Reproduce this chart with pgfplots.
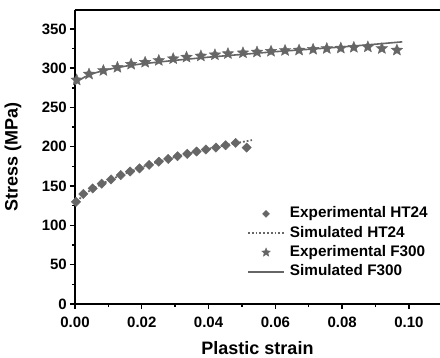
\documentclass[border=0pt]{standalone}
\usepackage{fontspec}
\setmainfont{Liberation Sans}
\usepackage{pgfplots}
\pgfplotsset{compat=1.18}
\definecolor{dgray}{HTML}{666666}
\pgfdeclareplotmark{fstar}{%
  \pgfpathmoveto{\pgfpointpolar{90}{\pgfplotmarksize}}%
  \pgfpathlineto{\pgfpointpolar{126}{0.45\pgfplotmarksize}}%
  \pgfpathlineto{\pgfpointpolar{162}{\pgfplotmarksize}}%
  \pgfpathlineto{\pgfpointpolar{198}{0.45\pgfplotmarksize}}%
  \pgfpathlineto{\pgfpointpolar{234}{\pgfplotmarksize}}%
  \pgfpathlineto{\pgfpointpolar{270}{0.45\pgfplotmarksize}}%
  \pgfpathlineto{\pgfpointpolar{306}{\pgfplotmarksize}}%
  \pgfpathlineto{\pgfpointpolar{342}{0.45\pgfplotmarksize}}%
  \pgfpathlineto{\pgfpointpolar{18}{\pgfplotmarksize}}%
  \pgfpathlineto{\pgfpointpolar{54}{0.45\pgfplotmarksize}}%
  \pgfpathclose
  \pgfusepathqfillstroke}
\begin{document}
\begin{tikzpicture}
\begin{axis}[
  scale only axis, width=365pt, height=294pt,
  xmin=0, xmax=0.1093, ymin=0, ymax=374,
  axis x line*=bottom, axis y line*=left,
  axis line style={line width=1.6pt, -},
  xtick={0,0.02,0.04,0.06,0.08,0.10},
  xticklabels={0.00,0.02,0.04,0.06,0.08,0.10},
  ytick={0,50,...,350},
  minor xtick={0.01,0.03,0.05,0.07,0.09},
  minor ytick={25,75,...,375},
  tick align=outside,
  major tick length=5pt, minor tick length=3pt,
  every tick/.style={black, line width=1.4pt},
  /pgf/number format/assume math mode=true,
  ticklabel style={font=\bfseries\fontsize{15}{15}\selectfont},
  xticklabel style={inner sep=0pt, anchor=north, yshift=-7.7pt},
  yticklabel style={inner sep=0pt, anchor=east, xshift=-3pt},
  xlabel={Plastic strain}, ylabel={Stress (MPa)},
  label style={font=\bfseries\fontsize{18}{18}\selectfont, inner sep=0pt},
  xlabel style={at={(axis description cs:0.5,-0.1715)}, anchor=base},
  ylabel style={at={(axis description cs:-0.170,0.5)}, anchor=center},
  legend image code/.code={\draw[mark repeat=2,mark phase=2,#1,every mark/.append style={scale=0.75}] plot coordinates {(0pt,0pt) (18pt,0pt) (36pt,0pt)}; \path (41pt,0pt);},
  legend style={draw=none, fill=none, font=\bfseries\fontsize{15.3}{15.3}\selectfont,
    at={(axis cs:0.0515,123.8)}, anchor=north west, inner sep=0pt, row sep=5.3pt,
    nodes={inner sep=0pt, text height=11pt, text depth=3pt}},
  legend cell align=left,
]
\draw[line width=1.6pt] (rel axis cs:0,1) -- (rel axis cs:1,1);
\addplot[only marks, mark=square*, mark size=3.3pt, color=dgray, mark options={rotate=45}] coordinates {
(0.0003,130) (0.0025,140) (0.0053,147) (0.0080,153) (0.0108,158.5) (0.0137,164)
(0.0165,168.5) (0.0193,172.5) (0.0222,177) (0.0251,181) (0.0279,184.5) (0.0307,188)
(0.0336,191) (0.0364,194) (0.0392,196.5) (0.0422,199) (0.0451,202) (0.0481,205) (0.0514,199)};
\addlegendentry{Experimental HT24}
\addplot[dotted, line width=1.8pt, color=dgray] coordinates {
(0,126) (0.002,137) (0.005,146) (0.01,157) (0.015,166) (0.02,174) (0.025,181)
(0.03,187) (0.035,192.5) (0.04,197.5) (0.045,202) (0.05,206) (0.053,208.5)};
\addlegendentry{Simulated HT24}
\addplot[only marks, mark=fstar, mark size=6pt, color=dgray] coordinates {
(0.0005,285) (0.0042,292.5) (0.0085,297) (0.0127,301) (0.0168,305) (0.0210,307.5)
(0.0251,309.8) (0.0294,312) (0.0334,314) (0.0377,315.5) (0.0419,317) (0.0458,318.5)
(0.0503,319.5) (0.0545,320.5) (0.0587,321.5) (0.0629,322.5) (0.0671,323) (0.0713,324)
(0.0754,325) (0.0796,325.5) (0.0835,326.5) (0.0877,327) (0.0919,325) (0.0964,323)};
\addlegendentry{Experimental F300}
\addplot[line width=1.6pt, color=dgray] coordinates {
(0,279) (0.001,284) (0.003,289) (0.006,294) (0.01,298.5) (0.015,302.5) (0.02,305.5)
(0.03,310) (0.04,314) (0.05,317.5) (0.06,321) (0.07,324) (0.08,327) (0.09,330.5) (0.098,333.5)};
\addlegendentry{Simulated F300}
\end{axis}
\pgfresetboundingbox
\path (-75pt,-53pt) rectangle (365pt,304pt);
\end{tikzpicture}
\end{document}
